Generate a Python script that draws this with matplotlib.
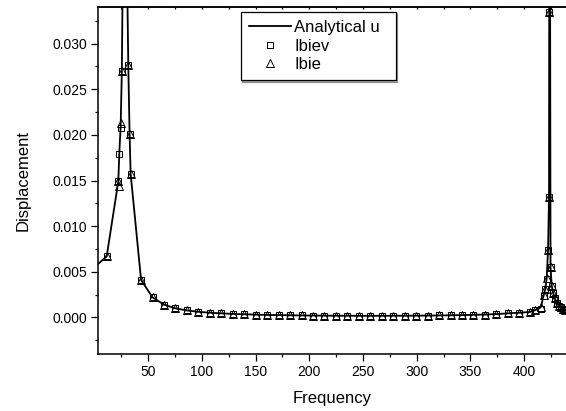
import matplotlib
matplotlib.use("Agg")
import matplotlib.pyplot as plt
from matplotlib.ticker import MultipleLocator, FormatStrFormatter

plt.rcParams['font.family'] = ['Liberation Sans', 'DejaVu Sans']

# ---- data ----
flat_freq = [43.5, 54.2, 64.9, 75.5, 86.2, 96.9, 107.5, 118.2, 128.9, 139.5, 150.2,
             160.9, 171.5, 182.2, 192.9, 203.5, 214.2, 224.9, 235.5, 246.2, 256.9,
             267.5, 278.2, 288.9, 299.5, 310.2, 320.9, 331.5, 342.2, 352.9, 363.5,
             374.2, 384.9, 395.5, 405.2, 410.0]
flat_disp = [0.0041, 0.0022, 0.0014, 0.00100, 0.00077, 0.00062, 0.00052, 0.00045,
             0.00039, 0.00035, 0.00031, 0.00028, 0.00026, 0.00024, 0.00022, 0.00021,
             0.00020, 0.00019, 0.00019, 0.00018, 0.00018, 0.00018, 0.00019, 0.00019,
             0.00020, 0.00021, 0.00022, 0.00024, 0.00026, 0.00029, 0.00032, 0.00037,
             0.00045, 0.00052, 0.00060, 0.00078]

line_freq = ([1.0, 11.5, 22.3, 23.2, 24.5, 25.6, 26.6, 28.0, 29.2, 30.2, 31.6, 32.8, 33.8]
             + flat_freq
             + [415.5, 418.4, 419.7, 421.0, 422.3, 423.2, 423.5, 424.0, 424.6, 425.7,
                427.0, 428.5, 430.5, 432.5, 434.5, 436.5, 438.5, 440.5])
line_disp = ([0.0056, 0.0067, 0.0149, 0.0179, 0.0210, 0.0270, 0.040, 0.09, 0.09, 0.040,
              0.0276, 0.0201, 0.0157]
             + flat_disp
             + [0.0011, 0.0025, 0.0031, 0.0043, 0.0074, 0.0132, 0.05, 0.05, 0.0055, 0.0035,
                0.0027, 0.0021, 0.0016, 0.0013, 0.0011, 0.0009, 0.0008, 0.0007])

ibiev_freq = ([11.5, 22.3, 23.2, 24.5, 25.6, 31.6, 32.8, 33.8]
              + flat_freq
              + [415.5, 418.4, 419.7, 421.0, 422.3, 423.2, 423.6, 424.6, 425.7, 427.0,
                 428.5, 430.5, 432.5, 434.5, 436.5, 438.5])
ibiev_disp = ([0.0067, 0.0149, 0.0179, 0.0207, 0.0270, 0.0276, 0.0201, 0.0157]
              + flat_disp
              + [0.0009, 0.0024, 0.0031, 0.0042, 0.0074, 0.0132, 0.0334, 0.0055, 0.0035,
                 0.0027, 0.0021, 0.0016, 0.0013, 0.0011, 0.0009, 0.0008])

ibie_freq = ([11.5, 22.3, 22.9, 24.5, 25.6, 31.6, 32.8, 33.8]
             + flat_freq
             + [415.5, 418.4, 419.7, 421.0, 422.3, 423.2, 423.6, 424.6, 425.7, 427.0,
                428.5, 430.5, 432.5, 434.5, 436.5, 438.5])
ibie_disp = ([0.0067, 0.0149, 0.0144, 0.0213, 0.0270, 0.0276, 0.0201, 0.0157]
             + flat_disp
             + [0.0012, 0.0025, 0.0031, 0.0043, 0.0074, 0.0132, 0.0334, 0.0055, 0.0035,
                0.0027, 0.0021, 0.0016, 0.0013, 0.0011, 0.0009, 0.0008])

# ---- figure ----
fig = plt.figure(figsize=(5.66, 4.11), dpi=100)
ax = fig.add_axes([98/566, 57/411, 468/566, 347/411])

ax.plot(line_freq, line_disp, color='black', lw=1.3, label='Analytical u', zorder=2)
ax.plot(ibiev_freq, ibiev_disp, ls='none', marker='s', ms=4.5, mfc='none',
        mec='black', mew=0.7, label='Ibiev', zorder=3)
ax.plot(ibie_freq, ibie_disp, ls='none', marker='^', ms=5.2, mfc='none',
        mec='black', mew=0.7, label='Ibie', zorder=3)

ax.set_xlim(3.4, 439)
ax.set_ylim(-0.004, 0.034)

ax.xaxis.set_major_locator(MultipleLocator(50))
ax.xaxis.set_minor_locator(MultipleLocator(25))
ax.yaxis.set_major_locator(MultipleLocator(0.005))
ax.yaxis.set_minor_locator(MultipleLocator(0.0025))
ax.yaxis.set_major_formatter(FormatStrFormatter('%.3f'))

ax.tick_params(which='major', direction='out', length=5, width=0.9, labelsize=10, pad=3)
ax.tick_params(which='minor', direction='out', length=2.5, width=0.9)
ax.tick_params(axis='x', which='both', top=False)
ax.tick_params(axis='y', which='both', right=False)

for s in ['left', 'bottom', 'top']:
    ax.spines[s].set_linewidth(1.1)
ax.spines['right'].set_visible(False)

sec = ax.secondary_xaxis('top')
sec.xaxis.set_major_locator(MultipleLocator(50))
sec.xaxis.set_minor_locator(MultipleLocator(25))
sec.tick_params(which='both', direction='in', length=1.5, width=0.9, labeltop=False)
sec.spines['top'].set_linewidth(1.1)

ax.set_xlabel('Frequency', fontsize=12)
ax.set_ylabel('Displacement', fontsize=12)
ax.xaxis.set_label_coords(0.5, (354 - 391) / 347)
ax.yaxis.set_label_coords((31 - 98) / 468, 0.5)

leg = ax.legend(loc='upper left', bbox_to_anchor=((241 - 98) / 468, (354 - 83) / 347,
                                                   155 / 468, 71 / 347),
                mode='expand', fontsize=12, frameon=True, fancybox=False,
                edgecolor='black', handlelength=2.5, handletextpad=0.2,
                labelspacing=0.2, borderpad=0.5, borderaxespad=0,
                shadow={'ox': 1, 'oy': -1})
leg.get_frame().set_linewidth(0.9)

fig.savefig('out.png', dpi=100)
